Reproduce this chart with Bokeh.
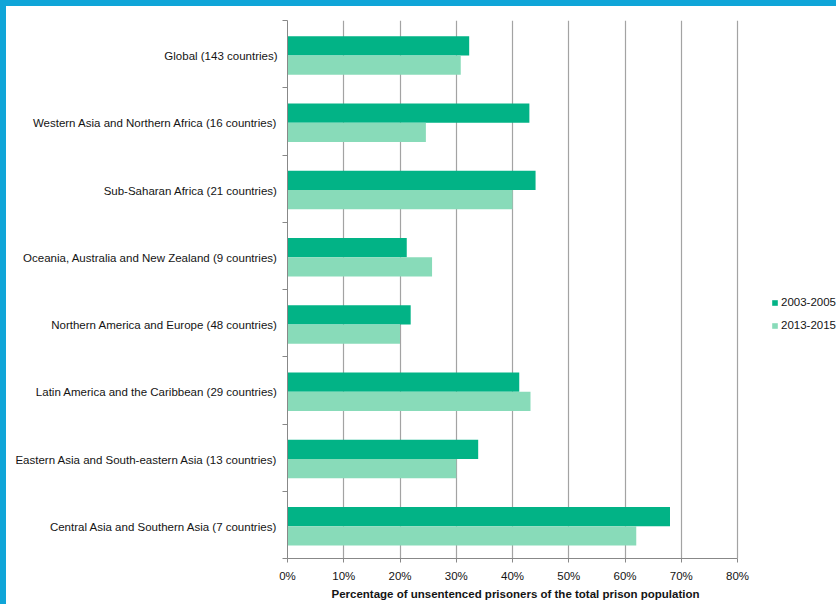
from bokeh.plotting import figure
from bokeh.models import (ColumnDataSource, Range1d, FixedTicker,
                          PrintfTickFormatter, Legend, LegendItem, Title)
from bokeh.embed import file_html
from bokeh.resources import INLINE

categories = [
    "Global (143 countries)",
    "Western Asia and Northern Africa (16 countries)",
    "Sub-Saharan Africa (21 countries)",
    "Oceania, Australia and New Zealand (9 countries)",
    "Northern America and Europe (48 countries)",
    "Latin America and the Caribbean (29 countries)",
    "Eastern Asia and South-eastern Asia (13 countries)",
    "Central Asia and Southern Asia (7 countries)",
]
values_2003_2005 = [32.3, 43.0, 44.1, 21.2, 21.9, 41.2, 33.9, 68.0]
values_2013_2015 = [30.8, 24.6, 40.0, 25.7, 20.0, 43.2, 30.0, 62.0]
series_names = ["2003-2005", "2013-2015"]
x_ticks = [0, 10, 20, 30, 40, 50, 60, 70, 80]
x_title = "Percentage of unsentenced prisoners of the total prison population"

DARK = "#02B386"
LIGHT = "#88DBB9"
BLUE = "#0FA5D8"
FONT = "Liberation Sans"
FS = "11.5px"
TXT = "#141414"

W, H = 836, 604
LEFT, RIGHT_AXIS_END = 287, 737
x_max = x_ticks[-1]
# frame spans to the right edge so the legend is not clipped; the
# axis itself stops at 80 %
x_view_end = x_max * (W - LEFT) / (RIGHT_AXIS_END - LEFT)

n = len(categories)
centers = [n - i - 0.5 for i in range(n)]
bar_h = 0.287
shift = 0.02
label_shift = 0.03

src1 = ColumnDataSource(dict(y=[c + bar_h / 2 - shift for c in centers],
                             v=values_2003_2005))
src2 = ColumnDataSource(dict(y=[c - bar_h / 2 - shift for c in centers],
                             v=values_2013_2015))

p = figure(width=W, height=H, output_backend="svg", toolbar_location=None,
           x_range=Range1d(0, x_view_end), y_range=Range1d(0, n),
           min_border_left=LEFT, min_border_right=0,
           min_border_top=20, min_border_bottom=46)
p.styles = {"background-color": "white",
            "box-shadow": f"inset 6px 6px 0 0 {BLUE}"}

r1 = p.hbar(y="y", right="v", left=0, height=bar_h, source=src1,
            fill_color=DARK, line_color=None)
r2 = p.hbar(y="y", right="v", left=0, height=bar_h, source=src2,
            fill_color=LIGHT, line_color=None)

p.outline_line_color = None
p.background_fill_color = "white"
p.border_fill_color = None

p.ygrid.grid_line_color = None
p.xgrid.ticker = FixedTicker(ticks=x_ticks)
p.xgrid.grid_line_color = "#A3A3A3"
p.xgrid.grid_line_width = 1.2

xa = p.xaxis[0]
xa.ticker = FixedTicker(ticks=x_ticks)
xa.bounds = (0, x_max)
xa.formatter = PrintfTickFormatter(format="%d%%")
xa.axis_line_color = "#888888"
xa.major_tick_line_color = "#888888"
xa.major_tick_out = 4
xa.major_tick_in = 0
xa.minor_tick_line_color = None
xa.major_label_text_font = FONT
xa.major_label_text_font_size = FS
xa.major_label_text_color = TXT
xa.major_label_standoff = 7

# axis title, centred under the 0-80 % part of the axis
title = Title(text=x_title, align="left", offset=44, standoff=2,
              text_font=FONT, text_font_size=FS, text_font_style="bold",
              text_color=TXT)
p.add_layout(title, "below")

label_pos = [c - label_shift for c in centers]
ya = p.yaxis[0]
ya.ticker = FixedTicker(ticks=label_pos, minor_ticks=list(range(n + 1)))
ya.major_label_overrides = {c: cat for c, cat in zip(label_pos, categories)}
ya.axis_line_color = "#888888"
ya.major_tick_line_color = None
ya.major_tick_out = 0
ya.major_tick_in = 0
ya.minor_tick_line_color = "#888888"
ya.minor_tick_out = 5
ya.minor_tick_in = 0
ya.major_label_text_font = FONT
ya.major_label_text_font_size = FS
ya.major_label_text_color = TXT
ya.major_label_standoff = 5

legend = Legend(items=[LegendItem(label=series_names[0], renderers=[r1]),
                       LegendItem(label=series_names[1], renderers=[r2])],
                location=(484, 225), orientation="vertical",
                glyph_width=7, glyph_height=7, label_standoff=3,
                spacing=7, padding=0, margin=0, label_height=16,
                border_line_color=None, background_fill_alpha=0,
                label_text_font=FONT, label_text_font_size=FS,
                label_text_color=TXT)
p.add_layout(legend)

open("out.html", "w").write(file_html(p, INLINE))
